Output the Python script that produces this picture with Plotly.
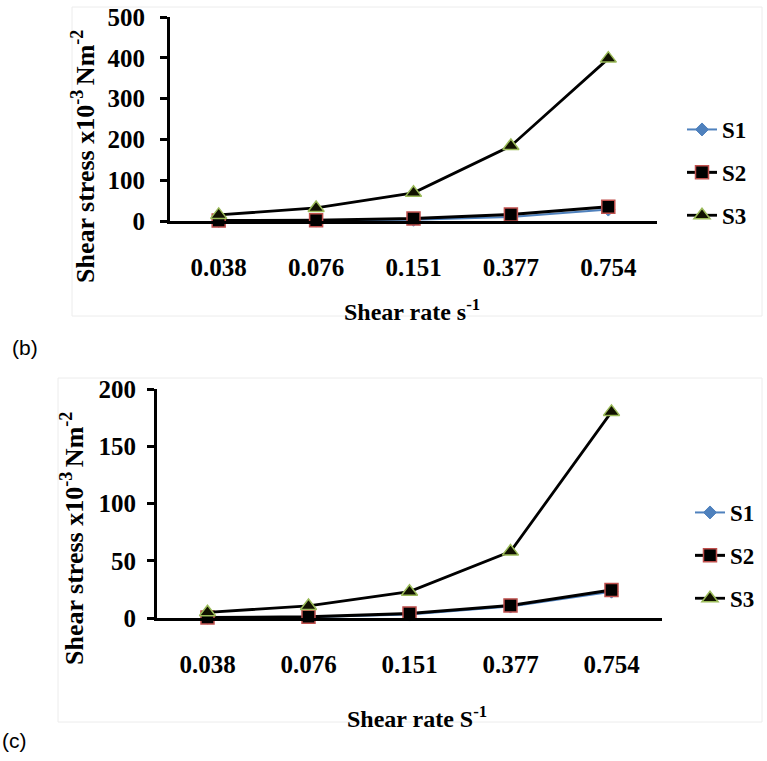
import plotly.graph_objects as go

# ---------------- data ----------------
shear_rate = ["0.038", "0.076", "0.151", "0.377", "0.754"]

b_S1 = [0.5, 1, 3, 10, 28]
b_S2 = [1, 2, 6, 16, 35]
b_S3 = [15, 32, 69, 184, 398]

c_S1 = [0.3, 0.8, 3, 10, 23]
c_S2 = [0.5, 1, 4, 11, 24.5]
c_S3 = [5, 10.5, 23, 58, 180]

b_yticks = [0, 100, 200, 300, 400, 500]
c_yticks = [0, 50, 100, 150, 200]

W, H = 767, 761
FONT = "Liberation Serif"

def px(x):
    return x / W

def py(y):
    return 1 - y / H

fig = go.Figure()

series_style = {
    "S1": dict(line=dict(color="#4F81BD", width=2),
               marker=dict(symbol="diamond", size=10, color="#4F81BD",
                           line=dict(color="#4F81BD", width=1))),
    "S2": dict(line=dict(color="black", width=3),
               marker=dict(symbol="square", size=13, color="black",
                           line=dict(color="#C0504D", width=1.5))),
    "S3": dict(line=dict(color="black", width=2.8),
               marker=dict(symbol="triangle-up", size=14, color="#111100",
                           line=dict(color="#9BBB59", width=1.5))),
}

for xa, ya, leg, data in [("x", "y", "legend", [b_S1, b_S2, b_S3]),
                          ("x2", "y2", "legend2", [c_S1, c_S2, c_S3])]:
    for name, vals in zip(["S1", "S2", "S3"], data):
        fig.add_trace(go.Scatter(
            x=shear_rate, y=vals, name=name, mode="lines+markers",
            xaxis=xa, yaxis=ya, legend=leg, legendgroup=leg + name,
            cliponaxis=False, **series_style[name]))

tickfont = dict(family=FONT, size=25, color="black", weight="bold")

xcommon = dict(type="category", range=[-0.5, 4.5], showline=True,
               linecolor="black", linewidth=3, ticks="", showgrid=False,
               zeroline=False, tickfont=tickfont, fixedrange=True,
               automargin=False)
ycommon = dict(showline=True, linecolor="black", linewidth=3, ticks="outside",
               ticklen=7, tickwidth=3, tickcolor="black", showgrid=False,
               zeroline=False, tickfont=tickfont, fixedrange=True,
               automargin=False)

legfont = dict(family=FONT, size=23, color="black", weight="bold")

fig.update_layout(
    width=W, height=H,
    margin=dict(l=0, r=0, t=0, b=0, autoexpand=False),
    paper_bgcolor="white", plot_bgcolor="white",
    showlegend=True,
    xaxis=dict(domain=[px(170), px(657)], anchor="y",
               ticklabelstandoff=22, **xcommon),
    yaxis=dict(domain=[py(221), py(17)], anchor="x", range=[0, 500],
               tickvals=b_yticks, ticklabelstandoff=10, **ycommon),
    xaxis2=dict(domain=[px(157), px(662)], anchor="y2",
                ticklabelstandoff=22, **xcommon),
    yaxis2=dict(domain=[py(618), py(389)], anchor="x2", range=[0, 200],
                tickvals=c_yticks, ticklabelstandoff=6, **ycommon),
    legend=dict(x=px(682), y=py(108), xanchor="left", yanchor="top",
                traceorder="grouped", tracegroupgap=10,
                font=legfont, bgcolor="rgba(0,0,0,0)"),
    legend2=dict(x=px(690), y=py(491), xanchor="left", yanchor="top",
                 traceorder="grouped", tracegroupgap=10,
                 font=legfont, bgcolor="rgba(0,0,0,0)"),
)

titlefont = dict(family=FONT, size=26, color="black", weight="bold")
annotations = [
    dict(text="Shear rate s<sup>-1</sup>", x=px(412), y=py(310), font=dict(titlefont, size=24)),
    dict(text="Shear stress x10<sup>-3 </sup>Nm<sup>-2</sup>", x=px(83), y=py(157), textangle=-90, font=titlefont),
    dict(text="Shear rate S<sup>-1</sup>", x=px(417), y=py(717), font=dict(titlefont, size=24)),
    dict(text="Shear stress x10<sup>-3 </sup>Nm<sup>-2</sup>", x=px(72), y=py(539), textangle=-90, font=titlefont),
]
for a in annotations:
    fig.add_annotation(xref="paper", yref="paper", showarrow=False,
                       xanchor="center", yanchor="middle", **a)

labfont = dict(family="Liberation Sans", size=21, color="black")
fig.add_annotation(text="(b)", xref="paper", yref="paper", x=px(10), y=py(347),
                   xanchor="left", yanchor="middle", showarrow=False, font=labfont)
fig.add_annotation(text="(c)", xref="paper", yref="paper", x=px(0), y=py(740),
                   xanchor="left", yanchor="middle", showarrow=False, font=labfont)

# faint panel frames
fig.add_shape(type="rect", xref="paper", yref="paper",
              x0=px(72), x1=px(762), y0=py(316), y1=py(7),
              line=dict(color="#ececec", width=1), layer="below")
fig.add_shape(type="rect", xref="paper", yref="paper",
              x0=px(58), x1=px(762), y0=py(722), y1=py(378),
              line=dict(color="#ececec", width=1), layer="below")

fig.write_html("out.html",
               config={"displayModeBar": False},
               post_script="document.body.style.margin='0';")
